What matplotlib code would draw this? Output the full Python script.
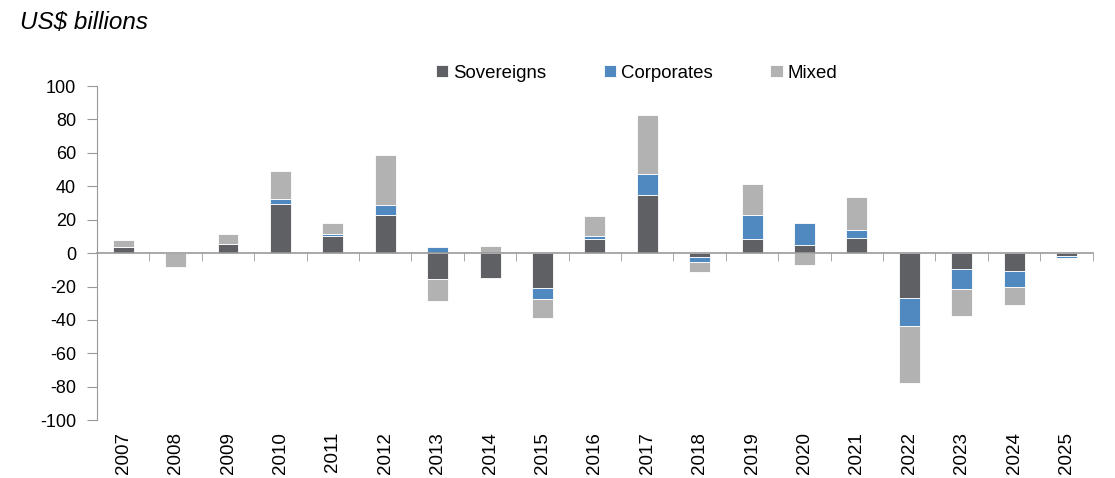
import numpy as np
import matplotlib.pyplot as plt

plt.rcParams['font.family'] = ['Liberation Sans', 'DejaVu Sans']
plt.rcParams['axes.unicode_minus'] = False

# Data (US$ billions)
years = ['2007', '2008', '2009', '2010', '2011', '2012', '2013', '2014', '2015', '2016',
         '2017', '2018', '2019', '2020', '2021', '2022', '2023', '2024', '2025']
sovereigns = [3.6, 0, 5.6, 29.6, 10.4, 22.8, -15.8, -15.2, -20.8, 8.2,
              35.0, -2.6, 8.4, 5.0, 9.0, -26.6, -9.4, -11.0, -2.0]
corporates = [0, 0, 0, 2.8, 1.0, 6.0, 3.8, 0, -6.8, 2.0,
              12.4, -3.0, 14.4, 13.0, 4.6, -17.0, -11.8, -9.0, -1.0]
mixed = [4.4, -8.6, 5.6, 16.6, 6.4, 30.2, -12.6, 4.2, -11.4, 11.8,
         35.2, -5.6, 18.4, -7.4, 19.8, -34.2, -16.6, -11.0, -0.6]

series = [('Sovereigns', sovereigns, '#5f6064'),
          ('Corporates', corporates, '#4f89c0'),
          ('Mixed', mixed, '#b2b2b2')]

fig = plt.figure(figsize=(11.15, 4.78), dpi=100)
ax = fig.add_axes([0.087, 0.121, 0.893, 0.699])

x = np.arange(len(years))
pos_base = np.zeros(len(years))
neg_base = np.zeros(len(years))
for name, vals, col in series:
    v = np.array(vals, dtype=float)
    bottom = np.where(v >= 0, pos_base, neg_base)
    ax.bar(x, v, width=0.4, bottom=bottom, color=col, label=name,
           edgecolor='white', linewidth=0.6)
    pos_base += np.where(v > 0, v, 0)
    neg_base += np.where(v < 0, v, 0)

ax.set_xlim(-0.5, len(years) - 0.5)
ax.set_ylim(-100, 100)
ax.set_yticks(np.arange(-100, 101, 20))
ax.tick_params(axis='y', direction='out', length=7, color='#999999',
               labelsize=13, pad=8)

# zero line acts as the category axis
ax.spines['bottom'].set_position(('data', 0))
ax.spines['bottom'].set_color('#999999')
ax.spines['bottom'].set_linewidth(1.2)
ax.spines['left'].set_color('#999999')
ax.spines['top'].set_visible(False)
ax.spines['right'].set_visible(False)

ax.set_xticks(np.arange(-0.5, len(years), 1.0), minor=True)
ax.set_xticks(x)
ax.tick_params(axis='x', which='major', length=0)
ax.tick_params(axis='x', which='minor', direction='out', length=6,
               color='#999999')
ax.set_xticklabels([])
for xi, lab in zip(x, years):
    ax.text(xi, -107, lab, rotation=90, ha='center', va='top', fontsize=13.5)

leg = ax.legend(loc='center', bbox_to_anchor=(0.542, 1.039), ncol=3,
                frameon=False, fontsize=13.4, handlelength=0.65,
                handleheight=0.65, handletextpad=0.27, columnspacing=3.1)

fig.text(0.018, 0.953, 'US$ billions', fontsize=17.5, style='italic',
         ha='left', va='center')

fig.savefig('out.png', dpi=100)
